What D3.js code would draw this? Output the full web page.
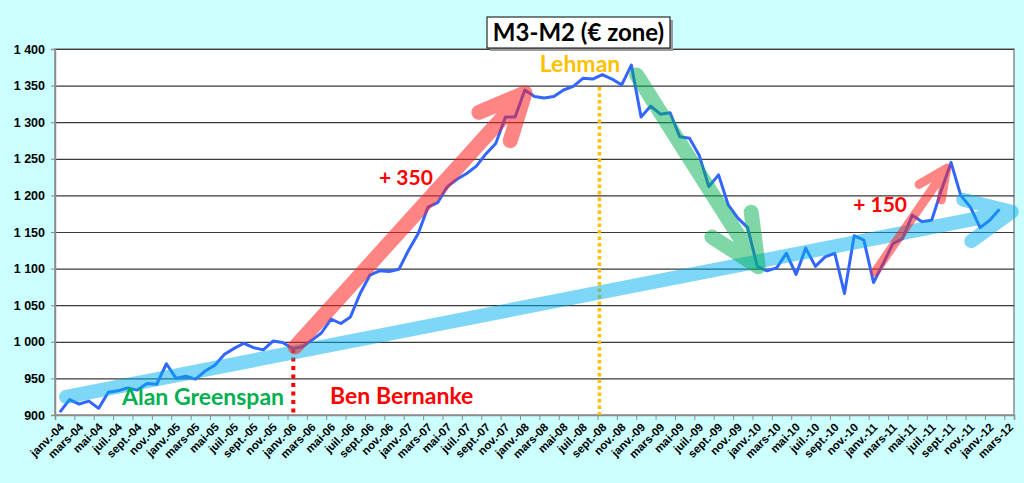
<!DOCTYPE html>
<html>
<head>
<meta charset="utf-8">
<script src="https://cdn.jsdelivr.net/npm/d3@7"></script>
<style>
  body { margin: 0; background: #ccffff; }
  svg { display: block; }
</style>
</head>
<body>
<svg id="chart"></svg>
<script>
// data: monthly M3-M2, janv.-04 .. févr.-12 (mars-12 category has no value)
const monthNames = ["janv.", "févr.", "mars", "avr.", "mai", "juin", "juil.", "août", "sept.", "oct.", "nov.", "déc."];
const years = ["04", "05", "06", "07", "08", "09", "10", "11", "12"];
const categories = [];
years.forEach(y => monthNames.forEach(m => categories.push(m + "-" + y)));
categories.splice(99); // stop at mars-12

const values = [
  904, 921, 915, 919, 909, 931, 933, 937, 934, 943, 942, 970,
  950, 953, 949, 960, 968, 983, 991, 998, 992, 989, 1001, 999,
  991, 993, 1002, 1012, 1031, 1025, 1034, 1066, 1091, 1097, 1096, 1099,
  1125, 1148, 1184, 1190, 1212, 1222, 1230, 1240, 1257, 1271, 1307, 1307,
  1344, 1335, 1333, 1335, 1344, 1349, 1360, 1359, 1365, 1359, 1351, 1378,
  1307, 1322, 1311, 1313, 1280, 1278, 1255, 1212, 1228, 1187, 1169, 1156,
  1103, 1097, 1101, 1121, 1092, 1128, 1103, 1116, 1121, 1066, 1145, 1139,
  1081, 1107, 1134, 1141, 1173, 1164, 1166, 1207, 1245, 1200, 1184, 1156,
  1166, 1181
];

const yTicks = [900, 950, 1000, 1050, 1100, 1150, 1200, 1250, 1300, 1350, 1400];

// annotations, in (category position, value)
const arrows = [
  { from: [1.14, 924.6], to: [98.76, 1177.7], color: "#00b0f0", width: 14, head: 50, op: 0.5 },
  { from: [24.78, 993], to: [48.52, 1340], color: "#ff2020", width: 15, head: 50, op: 0.55 },
  { from: [60.05, 1364.5], to: [72.6, 1102.6], color: "#00b050", width: 15, head: 55, op: 0.5 },
  { from: [84.65, 1095.4], to: [92.05, 1237], color: "#ff2020", width: 9, head: 32, op: 0.55 }
];
const labels = [
  { text: "Lehman", at: [54.2, 1368.6], color: "#ffc000", anchor: "middle", size: 23 },
  { text: "Alan Greenspan", at: [6.92, 913.7], color: "#00b050", anchor: "start", size: 23 },
  { text: "Ben Bernanke", at: [28.4, 915], color: "#ff0000", anchor: "start", size: 23 },
  { text: "+ 350", at: [33.45, 1214], color: "#ff0000", anchor: "start", size: 21 },
  { text: "+ 150", at: [82.4, 1177], color: "#ff0000", anchor: "start", size: 21 }
];
const events = [
  { pos: 24.6, top: 990, color: "#ff0000", width: 4, dash: "4,4.5" },
  { pos: 56.2, top: 1348, color: "#ffc000", width: 3.5, dash: "3.5,3" }
];

// setting up svg
const W = 1024, H = 483;
const m = { left: 55, right: 1014, top: 49, bottom: 415 };
const svg = d3.select("#chart").attr("width", W).attr("height", H);

svg.append("rect").attr("width", W).attr("height", H).attr("fill", "#ccffff");

const x = d3.scaleLinear().domain([0, categories.length]).range([m.left, m.right]);
const y = d3.scaleLinear().domain([900, 1400]).range([m.bottom, m.top]);

const fr = d3.formatLocale({ decimal: ",", thousands: "\u00a0", grouping: [3], currency: ["", "€"] });
const fmt = fr.format(",d");

// plot area
svg.append("rect")
  .attr("x", m.left).attr("y", m.top)
  .attr("width", m.right - m.left).attr("height", m.bottom - m.top)
  .attr("fill", "#ffffff")
  .attr("stroke", "#8c8c8c").attr("stroke-width", 1.5);

// gridlines
svg.append("g")
  .attr("transform", `translate(${m.left},0)`)
  .call(d3.axisLeft(y).tickValues(yTicks).tickSize(-(m.right - m.left)).tickFormat(""))
  .call(g => g.select(".domain").remove())
  .call(g => g.selectAll("line").attr("stroke", "#3a3a3a").attr("stroke-width", 1.2));

// y axis
svg.append("g")
  .attr("transform", `translate(${m.left},0)`)
  .call(d3.axisLeft(y).tickValues(yTicks).tickSize(4).tickPadding(6).tickFormat(fmt))
  .call(g => g.select(".domain").attr("stroke", "#8c8c8c").attr("stroke-width", 1.5))
  .call(g => g.selectAll("line").attr("stroke", "#8c8c8c"))
  .call(g => g.selectAll("text")
    .attr("font-family", "Liberation Sans, Arial, sans-serif")
    .attr("font-weight", "bold").attr("font-size", 12.5).attr("fill", "#000"));

// x axis tick marks at category boundaries, every 2 months
svg.append("g")
  .attr("transform", `translate(0,${m.bottom})`)
  .call(d3.axisBottom(x).tickValues(d3.range(0, categories.length, 2)).tickSize(5).tickFormat(""))
  .call(g => g.select(".domain").attr("stroke", "#8c8c8c").attr("stroke-width", 1.5))
  .call(g => g.selectAll("line").attr("stroke", "#8c8c8c"));

// x labels at category centers
svg.append("g")
  .selectAll("text")
  .data(categories.filter((c, i) => i % 2 === 0))
  .join("text")
    .attr("transform", (d, i) => `translate(${x(i * 2 + 0.5) + 2},${m.bottom + 10}) rotate(-45)`)
    .attr("text-anchor", "end")
    .attr("dy", "0.35em")
    .attr("font-family", "Liberation Sans, Arial, sans-serif")
    .attr("font-weight", "bold").attr("font-size", 11.5)
    .attr("fill", "#000")
    .text(d => d);

// event lines
svg.append("g")
  .selectAll("line")
  .data(events)
  .join("line")
    .attr("x1", d => x(d.pos)).attr("x2", d => x(d.pos))
    .attr("y1", d => y(d.top)).attr("y2", m.bottom)
    .attr("stroke", d => d.color)
    .attr("stroke-width", d => d.width)
    .attr("stroke-dasharray", d => d.dash);

// data line
const line = d3.line().x((d, i) => x(i + 0.5)).y(d => y(d));
svg.append("path")
  .datum(values)
  .attr("d", line)
  .attr("fill", "none")
  .attr("stroke", "#3366ff")
  .attr("stroke-width", 3)
  .attr("stroke-linejoin", "round");

// arrows
function arrowPath(a) {
  const x0 = x(a.from[0]), y0 = y(a.from[1]);
  const x1 = x(a.to[0]), y1 = y(a.to[1]);
  const ang = Math.atan2(y0 - y1, x0 - x1);
  const s = 25 * Math.PI / 180;
  const b1 = [x1 + a.head * Math.cos(ang + s), y1 + a.head * Math.sin(ang + s)];
  const b2 = [x1 + a.head * Math.cos(ang - s), y1 + a.head * Math.sin(ang - s)];
  return `M${x0},${y0}L${x1},${y1}M${b1[0]},${b1[1]}L${x1},${y1}L${b2[0]},${b2[1]}`;
}
svg.append("g")
  .selectAll("path")
  .data(arrows)
  .join("path")
    .attr("d", arrowPath)
    .attr("fill", "none")
    .attr("stroke", d => d.color)
    .attr("stroke-width", d => d.width)
    .attr("stroke-opacity", d => d.op)
    .attr("stroke-linecap", "round")
    .attr("stroke-linejoin", "round");

// text labels
svg.append("g")
  .selectAll("text")
  .data(labels)
  .join("text")
    .attr("x", d => x(d.at[0]))
    .attr("y", d => y(d.at[1]))
    .attr("text-anchor", d => d.anchor)
    .attr("font-family", "Lato, Open Sans, sans-serif")
    .attr("font-weight", "bold").attr("font-size", d => d.size)
    .attr("fill", d => d.color)
    .text(d => d.text);

// title box
const tg = svg.append("g");
tg.append("rect").attr("x", 490).attr("y", 20).attr("width", 183).attr("height", 31).attr("fill", "#9a9a9a");
tg.append("rect").attr("x", 487).attr("y", 17).attr("width", 183).attr("height", 31)
  .attr("fill", "#ffffff").attr("stroke", "#000").attr("stroke-width", 1);
tg.append("text")
  .attr("x", 578.5).attr("y", 41)
  .attr("text-anchor", "middle")
  .attr("font-family", "Lato, Open Sans, sans-serif")
  .attr("font-weight", "bold").attr("font-size", 24)
  .attr("fill", "#000")
  .text("M3-M2 (€ zone)");
</script>
</body>
</html>
